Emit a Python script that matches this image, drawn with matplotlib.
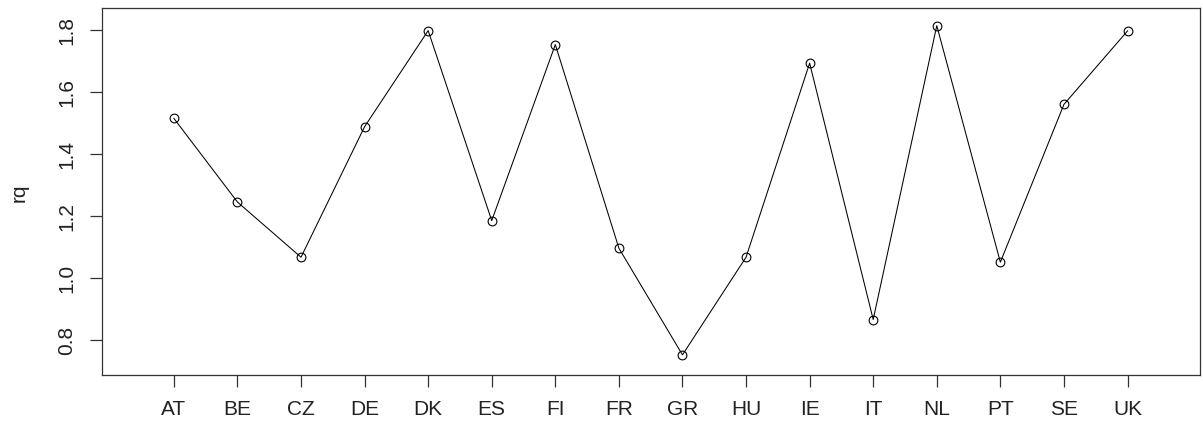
import numpy as np
import matplotlib.pyplot as plt

plt.rcParams['font.family'] = ['Liberation Sans', 'DejaVu Sans']

countries = ["AT", "BE", "CZ", "DE", "DK", "ES", "FI", "FR",
             "GR", "HU", "IE", "IT", "NL", "PT", "SE", "UK"]
rq = [1.514, 1.244, 1.066, 1.487, 1.797, 1.184, 1.752, 1.095,
      0.751, 1.066, 1.692, 0.865, 1.813, 1.050, 1.559, 1.796]
yticks = [0.8, 1.0, 1.2, 1.4, 1.6, 1.8]

W, H = 1203, 427
fig = plt.figure(figsize=(W/100, H/100), dpi=100, facecolor="white")
ax = fig.add_axes([102/W, (H-376)/H, (1200-102)/W, (376-9.3)/H])

x = np.arange(1, len(countries)+1)
ax.plot(x, rq, color="black", lw=0.75, zorder=2)
ax.plot(x, rq, "o", mfc="none", mec="black", mew=0.8, ms=6.3, zorder=3)

ax.set_xlim(-0.13, 17.14)
ax.set_ylim(0.686, 1.869)
ax.set_xticks(x)
ax.set_xticklabels(countries)
ax.set_yticks(yticks)
ax.set_yticklabels(["%.1f" % v for v in yticks], rotation=90, va="center")

txt = "#222222"
for s in ax.spines.values():
    s.set_color("#333333")
    s.set_linewidth(0.9)
ax.tick_params(axis="both", length=8.6, width=0.9, color="#333333",
               labelsize=15, labelcolor=txt)
ax.tick_params(axis="x", pad=9)
ax.tick_params(axis="y", pad=10)

ax.set_ylabel("rq", fontsize=15, color=txt)
ax.yaxis.set_label_coords(-0.0665, 0.5)

fig.savefig("out.png", dpi=100, facecolor="white")
